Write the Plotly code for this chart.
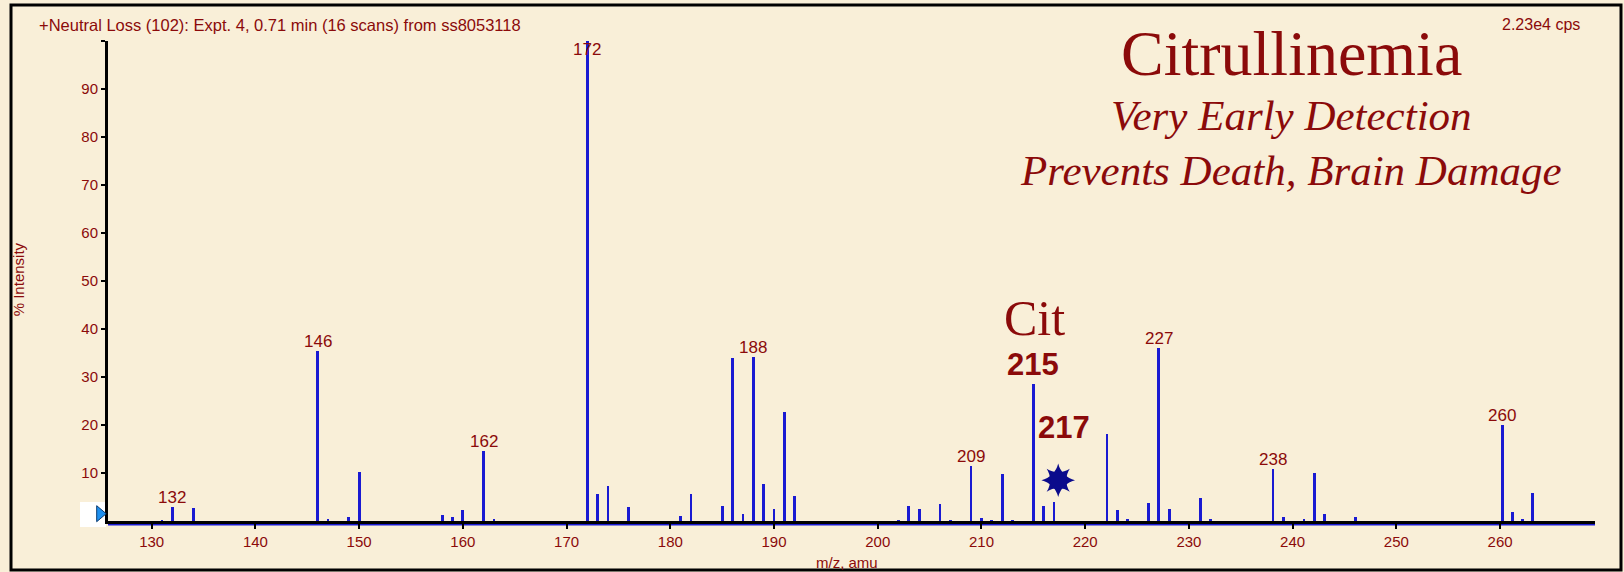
import plotly.graph_objects as go

# ---------------- data ----------------
mz = [131, 132, 134, 146, 147, 149, 150, 158, 159, 160, 162, 163,
      172, 173, 174, 176, 181, 182, 185, 186, 187, 188, 189, 190, 191, 192,
      202, 203, 204, 206, 207, 209, 210, 211, 212, 213, 215, 216, 217,
      222.1, 223.1, 224.1, 226.1, 227.1, 228.1, 231.1, 232.1, 238.1, 239.1,
      241.1, 242.1, 243.1, 246.1, 260.2, 261.2, 262.2, 263.1]
intensity = [0.3, 3.0, 2.7, 35.4, 0.5, 0.9, 10.2, 1.2, 0.8, 2.3, 14.6, 0.4,
             100.0, 5.6, 7.3, 3.0, 1.0, 5.7, 3.1, 33.9, 1.4, 34.2, 7.8, 2.5, 22.7, 5.3,
             0.3, 3.1, 2.5, 3.5, 0.3, 11.5, 0.7, 0.3, 9.7, 0.3, 28.5, 3.1, 3.9,
             18.1, 2.2, 0.4, 3.7, 36.1, 2.6, 4.7, 0.4, 10.9, 0.8,
             0.4, 9.9, 1.5, 0.8, 19.9, 1.9, 0.4, 5.8]

label_mz = [132, 146, 162, 172, 188, 209, 227.1, 238.1, 260.2]
label_text = ["132", "146", "162", "172", "188", "209", "227", "238", "260"]

x_ticks = list(range(130, 261, 10))
y_ticks = list(range(10, 101, 10))
y_ticktext = [str(v) for v in range(10, 100, 10)] + [""]

title_text = "+Neutral Loss (102): Expt. 4, 0.71 min (16 scans) from ss8053118"
cps_text = "2.23e4 cps"
headline = "Citrullinemia"
subline1 = "Very Early Detection"
subline2 = "Prevents Death, Brain Damage"
cit_text = "Cit"
cit_peak_a = "215"
cit_peak_b = "217"
star_mz = 217.4
star_int = 8.5

# ---------------- style ----------------
BG = "#F9EFD8"
RED = "#8B0A0A"
BLUE = "#1A1AD2"
SANS = "Liberation Sans, Arial, sans-serif"
SERIF = "Liberation Serif, Times New Roman, serif"

W, H = 1624, 572
ML, MR, MT, MB = 108, 29, 41, 51
PW, PH = W - ML - MR, H - MT - MB


def px_x(px):
    return (px - ML) / PW


def px_y(py):
    return (H - MB - py) / PH


fig = go.Figure()

fig.add_trace(go.Bar(x=mz, y=intensity, width=0.27,
                     marker=dict(color=BLUE, line=dict(width=0)),
                     hoverinfo="skip"))

# star marker (8-pointed: two 4-pointed stars + body)
for sym, sz in [("circle", 18), ("star-diamond", 24), ("star-square", 21)]:
    fig.add_trace(go.Scatter(x=[star_mz], y=[star_int], mode="markers",
                             marker=dict(symbol=sym, size=sz, color="#0B0B8C",
                                         line=dict(width=0)),
                             hoverinfo="skip", cliponaxis=False))

lookup = dict(zip(mz, intensity))
annotations = []
for m, t in zip(label_mz, label_text):
    v = lookup[m]
    if v >= 97:
        annotations.append(dict(x=m, y=100, xref="x", yref="y", text=t, showarrow=False,
                                yanchor="top", xanchor="center", yshift=3,
                                font=dict(family=SANS, size=17, color=RED)))
    else:
        annotations.append(dict(x=m, y=v, xref="x", yref="y", text=t, showarrow=False,
                                yanchor="bottom", xanchor="center", yshift=-2,
                                font=dict(family=SANS, size=17, color=RED)))

annotations += [
    dict(x=215.16, y=42.2, xref="x", yref="y", text=cit_text, showarrow=False,
         xanchor="center", yanchor="middle", font=dict(family=SERIF, size=50, color=RED)),
    dict(x=214.95, y=32.7, xref="x", yref="y", text="<b>" + cit_peak_a + "</b>", showarrow=False,
         xanchor="center", yanchor="middle", font=dict(family=SANS, size=31, color=RED)),
    dict(x=218.0, y=19.5, xref="x", yref="y", text="<b>" + cit_peak_b + "</b>", showarrow=False,
         xanchor="center", yanchor="middle", font=dict(family=SANS, size=31, color=RED)),
    dict(x=px_x(37), y=px_y(25), xref="paper", yref="paper", text=title_text, showarrow=False,
         xanchor="left", yanchor="middle", font=dict(family=SANS, size=16.5, color=RED)),
    dict(x=px_x(1582), y=px_y(25), xref="paper", yref="paper", text=cps_text, showarrow=False,
         xanchor="right", yanchor="middle", font=dict(family=SANS, size=16, color=RED)),
    dict(x=px_x(1291), y=px_y(53), xref="paper", yref="paper", text=headline, showarrow=False,
         xanchor="center", yanchor="middle", font=dict(family=SERIF, size=64, color=RED)),
    dict(x=px_x(1291), y=px_y(115), xref="paper", yref="paper", text="<i>" + subline1 + "</i>",
         showarrow=False, xanchor="center", yanchor="middle",
         font=dict(family=SERIF, size=43, color=RED)),
    dict(x=px_x(1291), y=px_y(170.5), xref="paper", yref="paper", text="<i>" + subline2 + "</i>",
         showarrow=False, xanchor="center", yanchor="middle",
         font=dict(family=SERIF, size=43, color=RED)),
    dict(x=px_x(18.3), y=px_y(279), xref="paper", yref="paper", text="% Intensity",
         showarrow=False, textangle=-90, xanchor="center", yanchor="middle",
         font=dict(family=SANS, size=15, color=RED)),
    dict(x=px_x(846.7), y=px_y(562.7), xref="paper", yref="paper", text="m/z, amu",
         showarrow=False, xanchor="center", yanchor="middle",
         font=dict(family=SANS, size=15, color=RED)),
]

shapes = [
    # outer frame
    dict(type="rect", xref="paper", yref="paper", x0=px_x(11), x1=px_x(1621),
         y0=px_y(570), y1=px_y(5), line=dict(color="black", width=3), layer="below"),
    # white box behind the threshold marker
    dict(type="rect", xref="paper", yref="paper", x0=px_x(80), x1=px_x(106),
         y0=px_y(527), y1=px_y(502), fillcolor="white", line=dict(width=0), layer="below"),
    # blue threshold triangle (pixel-sized, anchored in the left margin)
    dict(type="path", xref="paper", yref="paper", xsizemode="pixel", ysizemode="pixel",
         xanchor=px_x(96.7), yanchor=px_y(513.7),
         path="M0,-8 L9.5,0 L0,8 Z", fillcolor="#1E90F0",
         line=dict(color="#0A3A70", width=1), layer="above"),
    # blue spectrum baseline under the axis
    dict(type="line", xref="paper", yref="paper", x0=0, x1=1,
         y0=px_y(524.8), y1=px_y(524.8), line=dict(color=BLUE, width=1.6), layer="below"),
]

x_lo = 130 - (151.7 - ML) / 10.372
x_hi = 130 + (W - MR - 151.7) / 10.372

fig.update_layout(
    width=W, height=H,
    margin=dict(l=ML, r=MR, t=MT, b=MB, pad=0),
    paper_bgcolor=BG, plot_bgcolor=BG,
    showlegend=False, hovermode=False,
    bargap=0,
    annotations=annotations, shapes=shapes,
    xaxis=dict(range=[x_lo, x_hi], tickvals=x_ticks, ticks="outside", ticklen=5,
               tickwidth=2, tickcolor="black", showline=True, linecolor="black",
               linewidth=3, showgrid=False, zeroline=False,
               tickfont=dict(family=SANS, size=15, color=RED)),
    yaxis=dict(range=[0, 100], tickvals=y_ticks, ticktext=y_ticktext, ticks="outside",
               ticklen=4, tickwidth=2.5, tickcolor="black", showline=True,
               linecolor="black", linewidth=3, showgrid=False, zeroline=False,
               tickfont=dict(family=SANS, size=15, color=RED)),
)

fig.write_html(
    "out.html",
    config={"displayModeBar": False, "staticPlot": True},
    post_script="document.body.style.margin='0px';document.body.style.overflow='hidden';"
                "document.body.style.background='" + BG + "';",
)
